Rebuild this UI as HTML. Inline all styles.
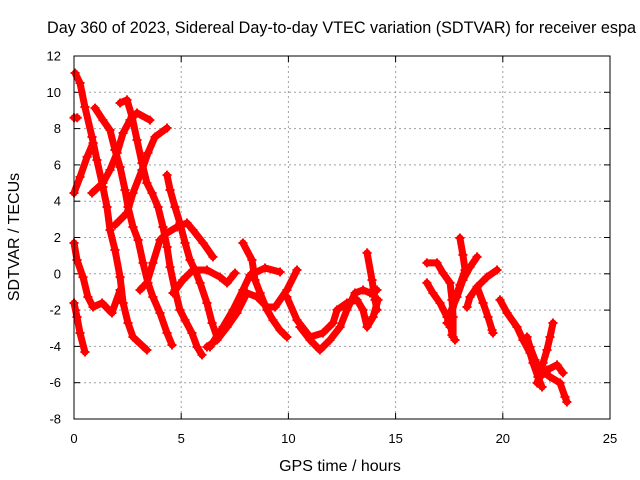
<!DOCTYPE html>
<html><head><meta charset="utf-8"><style>
html,body{margin:0;padding:0;background:#fff;}
svg{display:block;font-family:"Liberation Sans",sans-serif;}
</style></head><body>
<svg id="chart" width="640" height="480" xmlns="http://www.w3.org/2000/svg">
<rect x="0" y="0" width="640" height="480" fill="#fff"/>
<text x="47" y="33" font-size="16.2" fill="#000">Day 360 of 2023, Sidereal Day-to-day VTEC variation (SDTVAR) for receiver espa</text>
<g id="grid"></g>
<g id="ticks"></g>
<g id="series"></g>
<rect x="74" y="56" width="536" height="363" fill="none" stroke="#000" stroke-width="1"/>
<text x="340" y="471" font-size="16" text-anchor="middle">GPS time / hours</text>
<text transform="translate(19,237) rotate(-90)" font-size="16" text-anchor="middle">SDTVAR / TECUs</text>
</svg>
<script>
const xTicks = [0,5,10,15,20,25];
const yTicks = [-8,-6,-4,-2,0,2,4,6,8,10,12];
const trackHours = [
 [0.05,0.28,0.51,0.84,1.07,1.35,1.54,1.68,1.91,2.15,2.29,2.52,2.75,3.40],
 [0,0.28,0.61,0.89],
 [0.98,1.35,1.68,1.91,2.15,2.38,2.52,2.75,2.99,3.22,3.45,3.68,4.01,4.34,4.57],
 [0.84,1.35,1.68,2.01,2.29,2.61,2.94,3.54],
 [2.15,2.47,2.71,2.94,3.17,3.40,3.64,3.92,4.15,4.34,4.48,4.71,4.94,5.18,5.50,5.74,5.97],
 [1.91,2.47,2.75,3.17,3.45,3.78,4.34],
 [0,0.14,0.42,0.65,0.89,1.31,1.77,2.15],
 [3.08,3.40,3.68,4.01,4.34,4.80,5.27,5.55,6.02,6.48],
 [4.34,4.48,4.71,4.94,5.18,5.41,5.64,5.88,6.20,6.44,6.67],
 [0,0.14,0.28,0.51],
 [4.62,5.08,5.55,6.20,6.81,7.14,7.51],
 [0,0.15],
 [7.88,8.30,8.44,8.68,9.00,9.28,9.61,9.93],
 [10.40,9.93,9.38,9.00,8.54,8.07,7.60,7.14,6.67,6.20],
 [9.93,10.40,11.01,11.61,12.08,12.27,12.73,13.20,13.48,13.67,13.95,14.18],
 [13.67,13.90,14.04,14.13],
 [10.54,11.01,11.47,11.94,12.41,12.73,13.11,13.48,13.81,14.13],
 [6.34,6.95,7.42,7.88,8.21,8.91,9.61],
 [18.00,18.14,18.24,18.00,17.77,17.54,17.63,17.77],
 [16.46,16.93,17.21,17.54,17.63,17.68,17.68],
 [18.80,18.47,18.14,17.86,17.54,17.40],
 [19.73,19.26,18.80,18.47,18.33],
 [18.80,19.08,19.31,19.50,19.54],
 [16.46,16.74,17.07,17.40,17.54],
 [19.87,20.20,20.66,20.94,21.27,21.41,21.64,21.83],
 [22.34,22.20,22.06,21.88,21.74,21.60],
 [21.13,21.27,21.50,21.74,22.20,22.67,22.90,22.99],
 [22.81,22.53,22.06,21.74]
];
const trackValues = [
 [11.06,10.51,9.19,7.54,6.27,4.78,3.68,2.41,1.31,-0.18,-1.61,-2.71,-3.48,-4.20],
 [4.45,5.33,6.44,7.21],
 [9.13,8.47,7.92,6.82,5.88,4.62,3.68,2.58,1.86,0.60,-0.50,-1.28,-2.16,-3.26,-3.92],
 [4.45,5.00,5.72,6.66,7.76,8.47,8.86,8.47],
 [9.41,9.58,8.64,7.37,6.10,5.00,4.45,3.68,2.58,1.48,0.37,-0.89,-1.99,-2.55,-3.26,-4.03,-4.47],
 [2.69,3.35,4.45,5.72,6.66,7.54,8.03],
 [1.70,0.76,-0.18,-1.28,-1.83,-1.61,-2.16,-0.89],
 [-0.89,-0.50,0.60,1.86,2.25,2.58,2.80,2.41,1.70,0.93],
 [5.44,4.62,3.68,2.80,1.70,0.76,0.21,-0.50,-1.61,-2.71,-3.48],
 [-1.61,-2.38,-3.26,-4.31],
 [-1.06,-0.34,0.21,0.21,-0.18,-0.50,0.04],
 [8.6,8.6],
 [1.70,0.76,-0.34,-1.06,-1.99,-2.55,-3.10,-3.48],
 [0.21,-0.89,-1.83,-1.83,-1.28,-1.06,-2.16,-2.93,-3.65,-4.03],
 [-1.28,-2.55,-3.48,-3.26,-2.71,-1.99,-1.61,-1.44,-1.99,-2.93,-2.38,-1.44],
 [1.15,-0.34,-1.44,-1.99],
 [-2.93,-3.65,-4.20,-3.65,-2.93,-1.99,-1.06,-0.89,-1.06,-0.89],
 [-4.03,-2.93,-1.99,-0.89,-0.07,0.32,0.10],
 [1.97,1.04,0.21,-0.61,-1.44,-2.55,-3.37,-3.65],
 [0.60,0.60,0.04,-0.50,-1.44,-2.38,-3.48],
 [0.93,0.37,-0.34,-1.28,-2.16,-2.71],
 [0.21,-0.18,-0.72,-1.28,-1.83],
 [-0.72,-1.61,-2.38,-3.10,-3.26],
 [-0.50,-1.06,-1.61,-2.38,-2.93],
 [-1.44,-2.16,-2.93,-3.65,-4.36,-4.91,-5.68,-6.24],
 [-2.71,-3.48,-4.20,-4.91,-5.46,-6.01],
 [-3.48,-4.03,-4.75,-5.30,-5.68,-6.01,-6.78,-7.06],
 [-5.46,-5.02,-5.30,-5.68]
];
const NS='http://www.w3.org/2000/svg';
const X0=74,X1=610,Y0=419,Y1=56;
function xs(h){return X0+(h-0)/(25-0)*(X1-X0);}
function ys(v){return Y0-(v+8)/(20)*(Y0-Y1);}
const grid=document.getElementById('grid'),ticks=document.getElementById('ticks'),series=document.getElementById('series');
function mk(tag,attrs,parent){const e=document.createElementNS(NS,tag);for(const k in attrs)e.setAttribute(k,attrs[k]);parent.appendChild(e);return e;}
xTicks.forEach(t=>{
  const x=xs(t);
  if(t>0&&t<25){const g=mk('line',{x1:x,x2:x,y1:Y1,y2:Y0,stroke:'#a0a0a0','stroke-dasharray':'2,3'},grid);
  
  }
  const a=mk('line',{x1:x,x2:x,y1:Y0,y2:Y0-6,stroke:'#000'},ticks);
  
  
  const b=mk('line',{x1:x,x2:x,y1:Y1,y2:Y1+6,stroke:'#000'},ticks);
  
  
  const l=mk('text',{x:x,y:443,'font-size':13,'text-anchor':'middle'},ticks);l.textContent=t;
  
  
});
yTicks.forEach(t=>{
  const y=ys(t);
  if(t>-8&&t<12){const g=mk('line',{x1:X0,x2:X1,y1:y,y2:y,stroke:'#a0a0a0','stroke-dasharray':'2,3'},grid);
  
  }
  const a=mk('line',{x1:X0,x2:X0+6,y1:y,y2:y,stroke:'#000'},ticks);
  
  
  const b=mk('line',{x1:X1,x2:X1-6,y1:y,y2:y,stroke:'#000'},ticks);
  
  
  const l=mk('text',{x:61,y:y+4.5,'font-size':13,'text-anchor':'end'},ticks);l.textContent=t;
  
  
});
trackHours.forEach((hs,i)=>{
  const vs=trackValues[i];
  const pts=hs.map((h,j)=>xs(h).toFixed(1)+','+ys(vs[j]).toFixed(1)).join(' ');
  const p=mk('polyline',{points:pts,fill:'none',stroke:'#ff0000','stroke-width':7,'stroke-linejoin':'round','stroke-linecap':'round'},series);
  
  
  hs.forEach((h,j)=>{
    const x=xs(h),y=ys(vs[j]);
    const m=mk('path',{d:`M${x-4.5},${y}H${x+4.5}M${x},${y-4.5}V${y+4.5}`,stroke:'#ff0000','stroke-width':2},series);
    
    
  });
});
</script>
</body></html>
